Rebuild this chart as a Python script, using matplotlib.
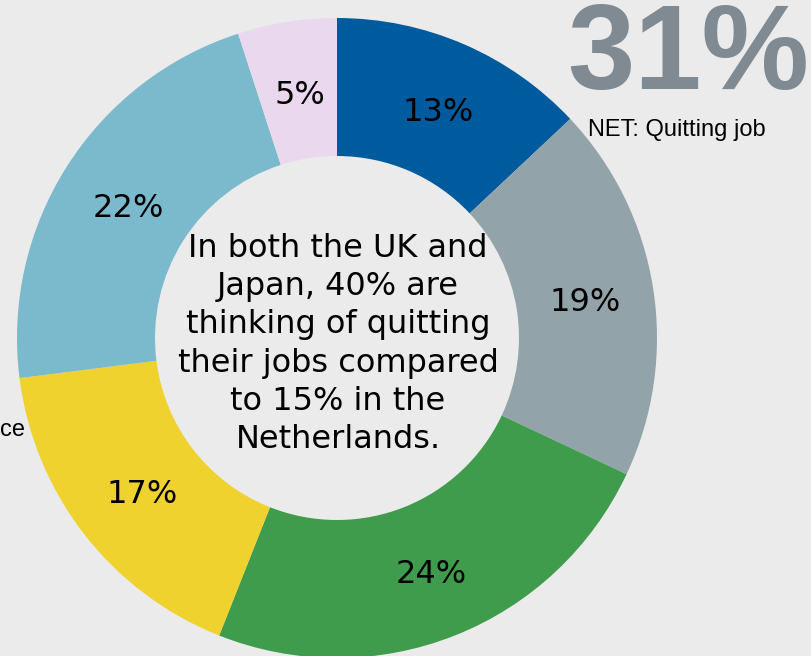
import matplotlib.pyplot as plt

# slice data, clockwise from 12 o'clock
shares = [13, 19, 24, 17, 22, 5]
colors = ["#005a9e", "#93a3aa", "#3f9c4c", "#efd22e", "#7bb9cc", "#ead8ee"]
labels = [str(v) + "%" for v in shares]

net_value = "31%"
net_label = "NET: Quitting job"
centre_text = ("In both the UK and\nJapan, 40% are\nthinking of quitting\n"
               "their jobs compared\nto 15% in the\nNetherlands.")

bg = "#ebebeb"
W, H = 812, 656
cx, cy, r_out, r_in = 337, H - 338, 320, 182

fig = plt.figure(figsize=[W / 100, H / 100], dpi=100, facecolor=bg)
ax = fig.add_axes([0, 0, 1, 1])
ax.set_facecolor(bg)

wedges, texts = ax.pie(shares, colors=colors, startangle=90, counterclock=False,
                       center=(cx, cy), radius=r_out, labels=labels,
                       labeldistance=0.78, frame=True,
                       wedgeprops=dict(width=r_out - r_in, linewidth=0),
                       textprops=dict(fontsize=23, ha="center", va="center",
                                      family="DejaVu Sans", color="black"))
# nudge the labels down a little
for t in texts:
    x, y = t.get_position()
    t.set_position((x + 2, y - 4))

ax.set_xlim(0, W)
ax.set_ylim(0, H)
ax.set_aspect("equal")
ax.axis("off")

# centre message
ax.text(cx + 1, H - 344, centre_text, ha="center", va="center", fontsize=23,
        family="DejaVu Sans", linespacing=1.3, color="black")

# NET figure top right
ax.text(688, H - 89, net_value, ha="center", va="baseline", fontsize=87,
        fontweight="bold", family="Liberation Sans", color="#7f8a93")
ax.text(588, H - 130, net_label, ha="left", va="center", fontsize=17,
        family="Liberation Sans", color="black")

# clipped label at the left edge
ax.text(0, H - 430, "ce", ha="left", va="center", fontsize=17,
        family="Liberation Sans", color="black")

plt.savefig("out.png", dpi=100, facecolor=bg)
plt.close()
